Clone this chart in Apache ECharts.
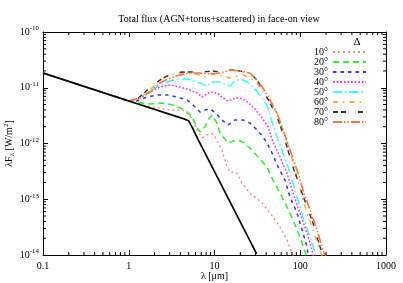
<!DOCTYPE html>
<html><head><meta charset="utf-8">
<script src="https://cdn.jsdelivr.net/npm/echarts@6/dist/echarts.min.js"></script>
<style>html,body{margin:0;padding:0;background:#fff}#c{width:403px;height:283px}</style>
</head><body><div id="c"></div>
<script>
// ---------- data (λ in μm, λFλ in W/m²) ----------
const xTicks = [0.1, 1, 10, 100, 1000];
const yTicks = [1e-14, 1e-13, 1e-12, 1e-11, 1e-10];
const xMinorTicks = [0.2,0.3,0.4,0.5,0.6,0.7,0.8,0.9, 2,3,4,5,6,7,8,9, 20,30,40,50,60,70,80,90, 200,300,400,500,600,700,800,900];
const yMinorTicks = [2e-14,3e-14,4e-14,5e-14,6e-14,7e-14,8e-14,9e-14, 2e-13,3e-13,4e-13,5e-13,6e-13,7e-13,8e-13,9e-13, 2e-12,3e-12,4e-12,5e-12,6e-12,7e-12,8e-12,9e-12, 2e-11,3e-11,4e-11,5e-11,6e-11,7e-11,8e-11,9e-11];
const angleLabels = ['10°','20°','30°','40°','50°','60°','70°','80°'];

const wlAGN = [0.1, 1, 4.3, 5.0, 5.5, 6.4, 31];
const fAGN  = [1.84e-11, 5.8e-12, 2.8e-12, 2.55e-12, 1.95e-12, 1.2e-12, 1.05e-14];

const wl10 = [0.1,1,1.35,1.92,3.03,4.29,5.47,6.25,7.15,8.18,9.35,10.1,12.2,14.0,15.2,18.3,20.9,25.9,35.8,44.4,58.1,70.0,80.1,84];
const f10  = [1.84e-11,5.8e-12,5.0e-12,4.52e-12,3.99e-12,3.99e-12,2.87e-12,1.75e-12,1.26e-12,1.42e-12,1.5e-12,1.35e-12,7.64e-13,3.79e-13,3.08e-13,2.96e-13,1.95e-13,1.29e-13,8.6e-14,5.7e-14,3.18e-14,1.86e-14,1.09e-14,8.5e-15];

const wl20 = [0.1,1,1.12,1.77,2.44,3.28,4.53,5.47,6.25,6.78,7.75,8.4,9.35,10.7,11.6,14.4,18.3,21.5,25.9,32.2,40.9,48.1,58.1,70.0,82.3,99.3,114,119];
const f20  = [1.84e-11,5.8e-12,5.55e-12,5.11e-12,5.33e-12,4.91e-12,3.99e-12,2.99e-12,1.98e-12,1.61e-12,1.98e-12,2.64e-12,3.24e-12,2.33e-12,1.54e-12,1.02e-12,1.16e-12,1.06e-12,8.3e-13,5.73e-13,3.79e-13,2.21e-13,1.29e-13,7.3e-14,4.25e-14,2.1e-14,1.13e-14,9e-15];

const wl30 = [0.1,1,1.25,1.63,2.13,2.79,3.65,4.78,5.61,6.78,7.75,8.87,10.4,12.2,14.4,17.3,21.5,25.9,31.3,36.8,40.9,46.9,55.1,66.4,75.9,91.6,105,120,123,127];
const f30  = [1.84e-11,5.8e-12,5.78e-12,6.82e-12,7.41e-12,7.41e-12,6.82e-12,6.03e-12,4.91e-12,3.67e-12,3.99e-12,4.2e-12,3.5e-12,2.64e-12,2.15e-12,2.64e-12,2.64e-12,2.33e-12,1.75e-12,1.31e-12,1.02e-12,6.76e-13,3.79e-13,2.21e-13,1.10e-13,5.7e-14,2.81e-14,1.39e-14,1e-14,8.5e-15];

const wl40 = [0.1,1,1.35,1.77,2.31,3.03,3.96,5.18,6.25,7.15,7.75,8.87,10.7,12.6,14.4,17.3,19.8,22.7,28.1,34.0,42.1,48.1,58.1,70.0,82.3,99.3,120,137,141,145];
const f40  = [1.84e-11,5.8e-12,6.5e-12,8.4e-12,1.03e-11,1.12e-11,1.03e-11,9.1e-12,8.05e-12,6.82e-12,7.41e-12,8.4e-12,8.05e-12,6.55e-12,5.78e-12,6.55e-12,6.55e-12,6.03e-12,4.52e-12,3.24e-12,2.0e-12,1.06e-12,5.73e-13,2.96e-13,1.29e-13,5.7e-14,2.48e-14,1.23e-14,1e-14,8.5e-15];

const wl50 = [0.1,1,1.2,1.63,2.13,2.79,3.65,4.78,6.25,7.34,8.18,9.35,11.6,13.3,15.2,17.3,19.8,23.9,28.1,34.0,40.9,48.1,55.1,63.0,75.9,91.6,108,130,149,153];
const f50  = [1.84e-11,5.8e-12,6.0e-12,8.05e-12,1.03e-11,1.27e-11,1.44e-11,1.44e-11,1.27e-11,1.17e-11,1.07e-11,1.27e-11,1.27e-11,1.17e-11,1.07e-11,1.32e-11,1.44e-11,1.27e-11,1.03e-11,7.41e-12,4.91e-12,2.15e-12,1.16e-12,6.76e-13,2.96e-13,1.10e-13,4.8e-14,2.1e-14,1.09e-14,9e-15];

const wl60 = [0.1,1,1.3,1.92,2.31,3.03,3.96,5.18,6.78,7.75,8.87,10.7,12.6,15.2,17.3,21.5,25.9,31.3,36.8,44.4,53.6,61.3,66.4,80.1,94.2,114,137,161,179,184];
const f60  = [1.84e-11,5.8e-12,6.5e-12,1.03e-11,1.38e-11,1.69e-11,1.84e-11,1.84e-11,1.69e-11,1.56e-11,1.77e-11,1.69e-11,1.62e-11,1.50e-11,1.56e-11,1.69e-11,1.50e-11,1.22e-11,8.4e-12,5.55e-12,3.52e-12,2.0e-12,1.4e-12,5.5e-13,2.1e-13,7.3e-14,3.18e-14,1.51e-14,1e-14,9e-15];

const wl70 = [0.1,1,1.3,1.92,2.51,3.28,4.29,5.61,7.34,9.35,11.6,15.2,19.8,25.9,31.3,36.8,44.4,53.6,61.3,70.0,82.3,99.3,120,141,161,179,184];
const f70  = [1.84e-11,5.8e-12,6.6e-12,1.12e-11,1.50e-11,1.84e-11,1.92e-11,1.92e-11,1.92e-11,2.0e-11,1.92e-11,2.1e-11,2.0e-11,1.84e-11,1.38e-11,9.1e-12,5.33e-12,2.99e-12,1.68e-12,8.65e-13,3.79e-13,1.66e-13,7.3e-14,3.75e-14,1.86e-14,1.09e-14,9e-15];

const wl80 = [0.1,1,1.3,1.77,2.31,3.03,3.96,5.18,6.78,8.87,11.6,15.2,19.8,25.9,31.3,36.8,44.4,53.6,63.0,75.9,91.6,108,130,157,184,195,200];
const f80  = [1.84e-11,5.8e-12,6.4e-12,8.4e-12,1.22e-11,1.50e-11,1.69e-11,1.84e-11,1.84e-11,1.77e-11,1.84e-11,2.08e-11,2.0e-11,1.84e-11,1.38e-11,9.9e-12,6.03e-12,3.52e-12,1.75e-12,7.64e-13,3.35e-13,1.47e-13,6.4e-14,2.81e-14,1.23e-14,1e-14,9e-15];

// ---------- build ----------
const pairs = (a, b) => a.map((v, i) => [v, b[i]]);
const angleWl = [wl10, wl20, wl30, wl40, wl50, wl60, wl70, wl80];
const angleF  = [f10, f20, f30, f40, f50, f60, f70, f80];
const colors = ['#ff7f7f', '#33ee33', '#3a3aff', '#ff33ff', '#33ffff', '#ffaa33', '#333333', '#ff7040'];
const dashes = [[2,3], [6,4], [3.5,4], [1.8,1.8], [9,3,1.5,3], [5,5,1.5,5], [5,3,5,12], [9,2,1.5,2,1.5,2]];
const widths = [1.3, 1.6, 1.6, 1.5, 1.5, 1.5, 1.4, 1.6];

const X_MIN = 0.1, X_MAX = 1000, Y_MIN = 1e-14, Y_MAX = 1e-10;
const FONT = 'Liberation Serif';

const series = [];
angleLabels.forEach((name, i) => {
  series.push({
    name, type: 'line', data: pairs(angleWl[i], angleF[i]),
    symbol: 'none', smooth: false, clip: true, z: 3,
    lineStyle: { color: colors[i], width: widths[i], type: dashes[i] },
    itemStyle: { color: colors[i] }
  });
});
series.push({
  name: 'AGN', type: 'line', data: pairs(wlAGN, fAGN), symbol: 'none', clip: true, z: 4,
  lineStyle: { color: '#000', width: 1.7, type: 'solid' }
});
// minor ticks (log spaced) drawn through the axes' own scales
series.push({
  type: 'custom', silent: true, clip: false, z: 5,
  data: xMinorTicks.map(v => [v, 1e-12]),
  renderItem: (p, api) => {
    const v = api.value(0);
    const b = api.coord([v, Y_MIN]), t = api.coord([v, Y_MAX]);
    return { type: 'group', children: [
      { type: 'line', shape: { x1: b[0], y1: b[1], x2: b[0], y2: b[1] - 3 }, style: { stroke: '#000', lineWidth: 1 } },
      { type: 'line', shape: { x1: t[0], y1: t[1], x2: t[0], y2: t[1] + 3 }, style: { stroke: '#000', lineWidth: 1 } }
    ]};
  }
});
series.push({
  type: 'custom', silent: true, clip: false, z: 5,
  data: yMinorTicks.map(v => [1, v]),
  renderItem: (p, api) => {
    const v = api.value(1);
    const l = api.coord([X_MIN, v]), r = api.coord([X_MAX, v]);
    return { type: 'group', children: [
      { type: 'line', shape: { x1: l[0], y1: l[1], x2: l[0] + 3, y2: l[1] }, style: { stroke: '#000', lineWidth: 1 } },
      { type: 'line', shape: { x1: r[0], y1: r[1], x2: r[0] - 3, y2: r[1] }, style: { stroke: '#000', lineWidth: 1 } }
    ]};
  }
});

const axisCommon = {
  type: 'log', logBase: 10,
  axisLine: { show: true, onZero: false, lineStyle: { color: '#000', width: 1 } },
  axisTick: { show: true, inside: true, length: 5, lineStyle: { color: '#000', width: 1 } },
  splitLine: { show: false }, minorTick: { show: false }
};

const chart = echarts.init(document.getElementById('c'), null, { renderer: 'canvas' });
chart.setOption({
  animation: false,
  backgroundColor: '#fff',
  textStyle: { fontFamily: FONT },
  title: [
    { text: 'Total flux (AGN+torus+scattered) in face-on view', left: 214, top: 9, textAlign: 'center',
      textStyle: { fontFamily: FONT, fontSize: 10, fontWeight: 'normal', color: '#000' } },
    { text: 'Δ', left: 352, top: 32, textAlign: 'center',
      textStyle: { fontFamily: FONT, fontSize: 11, fontWeight: 'normal', color: '#000' } }
  ],
  grid: { left: 43, right: 17, top: 32, bottom: 28, containLabel: false, outerBoundsMode: 'none' },
  legend: {
    data: angleLabels, orient: 'vertical', right: 31, top: 42, align: 'right',
    itemWidth: 33, itemHeight: 8, itemGap: 0,
    itemStyle: { color: 'rgba(0,0,0,0)', borderColor: 'rgba(0,0,0,0)', borderWidth: 0, opacity: 0 },
    textStyle: { fontFamily: FONT, fontSize: 10, color: '#000', lineHeight: 8, padding: [0, 0, 0, 0] },
    selectedMode: false
  },
  xAxis: [
    Object.assign({}, axisCommon, {
      min: X_MIN, max: X_MAX, position: 'bottom',
      axisLabel: { show: true, margin: 6, fontFamily: FONT, fontSize: 10, color: '#000',
        formatter: v => { const r = xTicks.find(t => Math.abs(Math.log10(t) - Math.log10(v)) < 1e-6); return r === undefined ? '' : String(r); } },
      name: 'λ [μm]', nameLocation: 'middle', nameGap: 16, nameMoveOverlap: false,
      nameTextStyle: { fontFamily: FONT, fontSize: 10, color: '#000' }
    }),
    Object.assign({}, axisCommon, { min: X_MIN, max: X_MAX, position: 'top', axisLabel: { show: false } })
  ],
  yAxis: [
    Object.assign({}, axisCommon, {
      min: Y_MIN, max: Y_MAX, position: 'left',
      axisLabel: { show: true, margin: 4, color: '#000', fontFamily: FONT, fontSize: 10,
        formatter: v => '10{s|' + Math.round(Math.log10(v)) + '}',
        rich: { s: { fontFamily: FONT, fontSize: 7, padding: [0, 0, 7, 0], color: '#000' } } },
      name: 'λF{b|λ} [W/m{s|2}]', nameLocation: 'middle', nameGap: 27, nameRotate: 90, nameMoveOverlap: false,
      nameTextStyle: { fontFamily: FONT, fontSize: 10, color: '#000',
        rich: { b: { fontFamily: FONT, fontSize: 7, padding: [5, 0, 0, 0] }, s: { fontFamily: FONT, fontSize: 7, padding: [0, 0, 6, 0] } } }
    }),
    Object.assign({}, axisCommon, { min: Y_MIN, max: Y_MAX, position: 'right', axisLabel: { show: false } })
  ],
  series
});
</script>
</body></html>
